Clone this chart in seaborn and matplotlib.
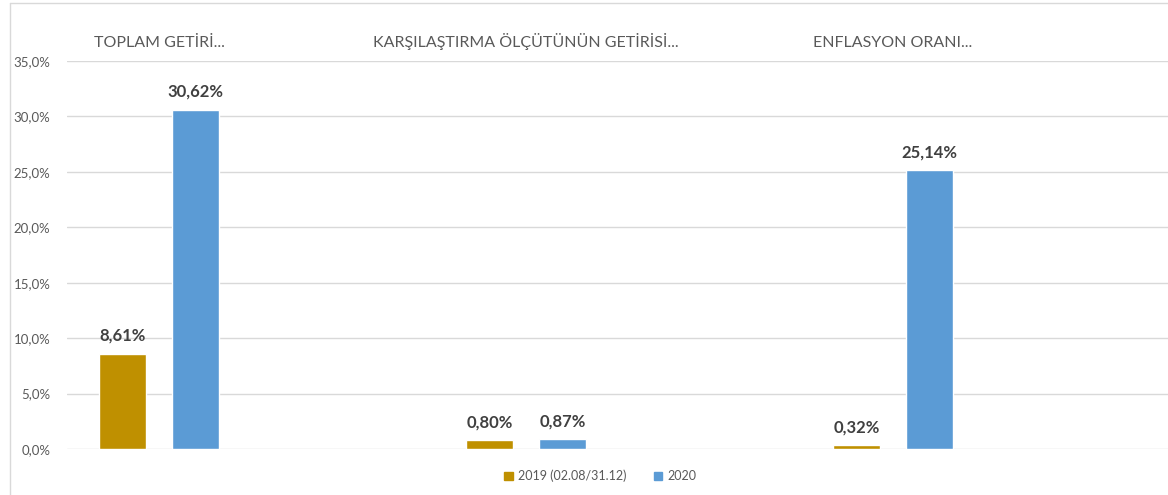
import pandas as pd
import seaborn as sns
import matplotlib.pyplot as plt
from matplotlib.lines import Line2D
from matplotlib.ticker import FuncFormatter

categories = ["TOPLAM GETİRİ...", "KARŞILAŞTIRMA ÖLÇÜTÜNÜN GETİRİSİ...", "ENFLASYON ORANI..."]
series = ["2019 (02.08/31.12)", "2020"]
values_2019 = [8.61, 0.80, 0.32]
values_2020 = [30.62, 0.87, 25.14]
y_ticks = [0, 5, 10, 15, 20, 25, 30, 35]

df = pd.DataFrame({
    "kategori": categories * 2,
    "seri": [series[0]] * 3 + [series[1]] * 3,
    "deger": values_2019 + values_2020,
})

sns.set_theme(style="white")
plt.rcParams["font.family"] = ["Lato", "DejaVu Sans"]

fig = plt.figure(figsize=(11.68, 4.95), dpi=100)
ax = fig.add_axes([67 / 1168, 1 - 449 / 495, 1101 / 1168, 388 / 495])

colors = {"2019 (02.08/31.12)": "#BF9000", "2020": "#5B9BD5"}
sns.barplot(data=df, x="kategori", y="deger", hue="seri", palette=colors,
            width=0.4, gap=0.36, ax=ax, legend=False, saturation=1)

for cont in ax.containers:
    labels = [f"{v:.2f}".replace(".", ",") + "%" for v in cont.datavalues]
    ax.bar_label(cont, labels=labels, padding=7, fontsize=12, fontweight="bold", color="#404040")

ax.set_xlim(-0.251, 2.749)
ax.set_ylim(0, 35)
ax.set_yticks(y_ticks)
ax.yaxis.set_major_formatter(FuncFormatter(lambda v, p: f"{v:.1f}".replace(".", ",") + "%"))
ax.tick_params(axis="y", labelsize=9.5, labelcolor="#595959", length=0, pad=12)
ax.grid(axis="y", color="#D9D9D9", linewidth=1)
ax.set_axisbelow(True)

ax.xaxis.tick_top()
ax.tick_params(axis="x", labelsize=11.5, labelcolor="#595959", length=0, pad=8)
ax.set_xlabel("")
ax.set_ylabel("")
for s in ax.spines.values():
    s.set_visible(False)

handles = [plt.Rectangle((0, 0), 1, 1, color=colors[s]) for s in series]
fig.legend(handles, series, loc="center", bbox_to_anchor=(600 / 1168, 1 - 476 / 495), ncol=2,
           frameon=False, fontsize=9, labelcolor="#595959", handlelength=0.7, handleheight=0.7,
           columnspacing=2.2, handletextpad=0.4)

# chart frame on the left/top edge
fig.add_artist(Line2D([10 / 1168, 10 / 1168], [0, 1 - 3 / 495], color="#D9D9D9", linewidth=1))
fig.add_artist(Line2D([10 / 1168, 1], [1 - 3 / 495, 1 - 3 / 495], color="#D9D9D9", linewidth=1))

fig.savefig("out.png", dpi=100)
